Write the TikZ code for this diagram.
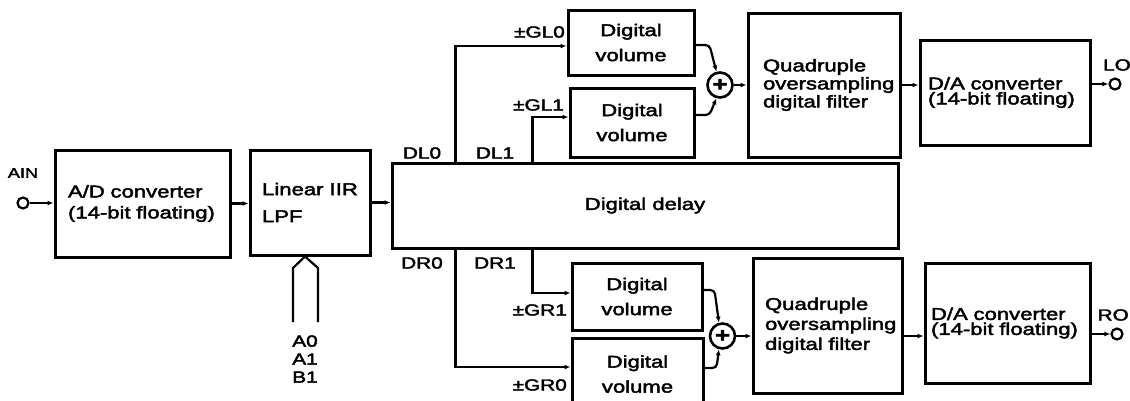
\documentclass[tikz,border=0pt]{standalone}
\usepackage{fontspec}
\setmainfont[FakeStretch=1.3,FakeBold=2.5]{Liberation Sans}
\usetikzlibrary{arrows.meta,calc}
\begin{document}
\begin{tikzpicture}[x=1pt,y=-1pt,
  blk/.style={draw, line width=3pt, inner sep=0pt},
  lbox/.style={blk, align=left, inner xsep=#1},
  txt/.style={font=\fontsize{17}{#1}\selectfont},
  lbl/.style={inner sep=0pt, font=\fontsize{16}{18}\selectfont},
  ln/.style={line width=2.2pt},
  arr/.style={ln, -{Latex[length=6pt,width=5pt]}},
  term/.style={draw, circle, line width=2.2pt, minimum size=11pt, inner sep=0pt},
  summ/.style={draw, circle, line width=2.6pt, minimum size=25pt, inner sep=0pt, font=\fontsize{20}{20}\selectfont\bfseries}
]
\path[fill=white] (0,0) rectangle (1130,400);
\useasboundingbox (0,0) rectangle (1130,400);

% input
\node[term] (ain) at (23,203) {};
\node[lbl, font=\fontsize{14}{16}\selectfont] (ainl) at (23,173) {AIN};

\node[lbox=13pt, txt=21, minimum width=175pt, minimum height=107pt, text width=149pt] (ad) at (142.5,203.5) {A/D converter\\(14-bit floating)};
\node[blk, align=left, txt=27, minimum width=120pt, minimum height=105pt] (lpf) at (310,202.5) {Linear IIR\\LPF};
\node[blk, txt=20, minimum width=506pt, minimum height=85pt] (delay) at (645,205.5) {Digital delay};

% digital volumes
\node[blk, txt=25, align=center, minimum width=126pt, minimum height=65pt] (dv1) at (631,42.5) {Digital\\volume};
\node[blk, txt=25, align=center, minimum width=124pt, minimum height=69pt] (dv2) at (632,122.5) {Digital\\volume};
\node[blk, txt=25, align=center, minimum width=130pt, minimum height=67pt] (dv3) at (637,296.5) {Digital\\volume};
\node[blk, txt=25, align=center, minimum width=131pt, minimum height=72pt] (dv4) at (637.5,374) {Digital\\volume};

% adders
\node[summ] (s1) at (720,85) {+};
\node[summ] (s2) at (722.5,336) {+};

% filters
\node[lbox=15pt, txt=18, minimum width=152pt, minimum height=144pt, text width=122pt] (f1) at (824,85) {Quadruple\\oversampling\\digital filter};
\node[lbox=12pt, txt=20, minimum width=149pt, minimum height=135pt, text width=125pt] (f2) at (827.5,325.5) {Quadruple\\oversampling\\digital filter};

% D/A converters
\node[lbox=8pt, txt=15, minimum width=170pt, minimum height=105pt, text width=154pt] (da1) at (1005,92.5) {D/A converter\\(14-bit floating)};
\node[lbox=6pt, txt=15, minimum width=165pt, minimum height=120pt, text width=153pt] (da2) at (1007.5,323) {D/A converter\\(14-bit floating)};

% outputs
\node[term] (lo) at (1115,84) {};
\node[lbl] (lol) at (1117,65) {LO};
\node[term] (ro) at (1117,334) {};
\node[lbl, anchor=east] (rol) at (1129,315) {RO};

% coefficient inputs
\coordinate (c1) at (293,322);
\coordinate (c2) at (318,322);
\draw[ln, line join=miter] (c1) -- (293,268) -- ([xshift=-5pt]lpf.south) -- (318,268) -- (c2);
\node[lbl, align=center] (coef) at (305,359) {A0\\A1\\B1};

% tap labels
\node[lbl] (dl0) at (422,153) {DL0};
\node[lbl] (dl1) at (495,153) {DL1};
\node[lbl] (dr0) at (422,263) {DR0};
\node[lbl] (dr1) at (495,263) {DR1};
\node[lbl, anchor=east] (gl0) at (565,32) {±GL0};
\node[lbl, anchor=east] (gl1) at (564,105) {±GL1};
\node[lbl, anchor=east] (gr1) at (567,310) {±GR1};
\node[lbl, anchor=east] (gr0) at (567,385) {±GR0};

% main chain
\draw[arr] (ain) -- (ain -| ad.west);
\draw[arr] (ad.east) -- (lpf.west |- ad.east);
\draw[arr] (lpf.east) -- (delay.west |- lpf.east);

% taps
\draw[arr] ([xshift=65pt]delay.north west) |- ([yshift=-3.5pt]dv1.west);
\draw[arr] ([xshift=142pt]delay.north west) |- ([yshift=5.5pt]dv2.west);
\draw[arr] ([xshift=142pt]delay.south west) |- ([yshift=3.5pt]dv3.west);
\draw[arr] ([xshift=65pt]delay.south west) |- ([yshift=7pt]dv4.west);

% into adders
\draw[arr, rounded corners=4pt] ([yshift=-2.5pt]dv1.east) -- ++(14,0) -- (s1.105);
\draw[arr, rounded corners=4pt] ([yshift=7.5pt]dv2.east) -- ++(14,0) -- (s1.255);
\draw[arr, rounded corners=4pt] ([yshift=6.5pt]dv3.east) -- ++(11,0) -- (s2.105);
\draw[arr, rounded corners=4pt] ([yshift=6pt]dv4.east) -- ++(12,0) -- (s2.255);

% output chain
\draw[arr] (s1.east) -- (s1 -| f1.west);
\draw[arr] (s2.east) -- (s2 -| f2.west);
\draw[arr] (s1 -| f1.east) -- (s1 -| da1.west);
\draw[arr] (s2 -| f2.east) -- (s2 -| da2.west);
\draw[arr] (lo -| da1.east) -- (lo);
\draw[arr] (ro -| da2.east) -- (ro);
\end{tikzpicture}
\end{document}
